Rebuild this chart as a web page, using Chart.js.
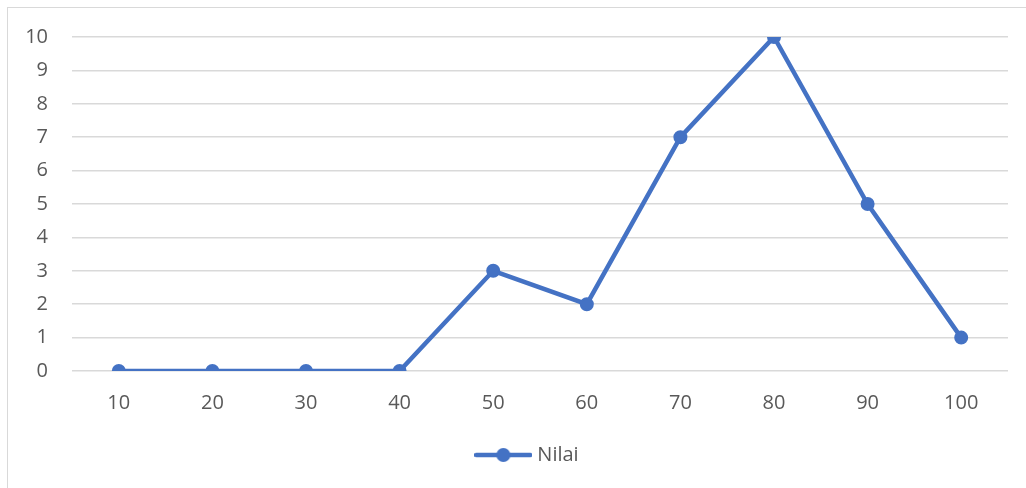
<!DOCTYPE html>
<html>
<head>
<meta charset="utf-8">
<script src="https://cdn.jsdelivr.net/npm/chart.js@4/dist/chart.umd.min.js"></script>
<style>
  html, body { margin: 0; padding: 0; background: #ffffff; overflow: hidden; }
  #frame {
    position: absolute; left: 7px; top: 7px; width: 1030px; height: 490px;
    border-left: 1.5px solid #d9d9d9; border-top: 1.5px solid #d9d9d9;
  }
  #wrap { position: absolute; left: 0; top: 0; width: 1026px; height: 488px; }
</style>
</head>
<body>
<div id="frame"></div>
<div id="wrap"><canvas id="chart" width="1026" height="488"></canvas></div>
<script>
// Categories and series values
const categories = ['10', '20', '30', '40', '50', '60', '70', '80', '90', '100'];
const nilaiValues = [0, 0, 0, 0, 3, 2, 7, 10, 5, 1];
const yTickLabels = ['0', '1', '2', '3', '4', '5', '6', '7', '8', '9', '10'];

const BLUE = '#4472C4';
const TEXT = '#595959';
const GRID = '#d9d9d9';
const FONT = "'Open Sans', 'Liberation Sans', sans-serif";

// Legend marker: a short line with a dot in the middle
const marker = document.createElement('canvas');
marker.width = 58; marker.height = 16;
(function () {
  const c = marker.getContext('2d');
  c.strokeStyle = BLUE; c.lineWidth = 4.5; c.lineCap = 'round';
  c.beginPath(); c.moveTo(2, 8); c.lineTo(56, 8); c.stroke();
  c.fillStyle = BLUE;
  c.beginPath(); c.arc(29, 8, 7, 0, Math.PI * 2); c.fill();
})();

// Center the legend under the plot area rather than the whole canvas
const legendUnderPlot = {
  id: 'legendUnderPlot',
  afterLayout(chart) {
    const lg = chart.legend;
    if (!lg) return;
    const shift = (chart.chartArea.left + chart.chartArea.right) / 2 - (lg.left + lg.right) / 2 - 11;
    lg.left += shift;
    lg.right += shift;
  }
};

new Chart(document.getElementById('chart'), {
  type: 'line',
  data: {
    labels: categories,
    datasets: [{
      label: 'Nilai',
      data: nilaiValues,
      borderColor: BLUE,
      backgroundColor: BLUE,
      borderWidth: 4.5,
      pointRadius: 6,
      pointHoverRadius: 6,
      pointBorderWidth: 2,
      pointBorderColor: BLUE,
      pointBackgroundColor: BLUE,
      pointStyle: 'circle',
      tension: 0,
      fill: false
    }]
  },
  plugins: [legendUnderPlot],
  options: {
    responsive: false,
    animation: false,
    events: [],
    layout: { padding: { left: 26, right: 18, top: 37, bottom: 13 } },
    plugins: {
      tooltip: { enabled: false },
      legend: {
        display: true,
        position: 'bottom',
        labels: {
          color: TEXT,
          font: { family: FONT, size: 20 },
          usePointStyle: true,
          pointStyleWidth: 48,
          padding: 10,
          generateLabels: (chart) => chart.data.datasets.map((ds, i) => ({
            text: ds.label,
            pointStyle: marker,
            fillStyle: BLUE,
            strokeStyle: BLUE,
            lineWidth: 0,
            fontColor: TEXT,
            datasetIndex: i
          }))
        }
      }
    },
    scales: {
      x: {
        offset: true,
        grid: { display: false, drawTicks: false },
        border: { display: false },
        ticks: { color: TEXT, font: { family: FONT, size: 20 }, padding: 20, maxRotation: 0 },
        afterFit: (s) => { s.height = 64; }
      },
      y: {
        min: 0,
        max: 10,
        grid: { color: GRID, lineWidth: 1.5, drawTicks: false },
        border: { display: false },
        ticks: {
          color: TEXT,
          font: { family: FONT, size: 20 },
          padding: 24,
          stepSize: 1,
          autoSkip: false,
          callback: (v) => yTickLabels[v] ?? ''
        },
        afterFit: (s) => { s.width = 46; }
      }
    }
  }
});
</script>
</body>
</html>
